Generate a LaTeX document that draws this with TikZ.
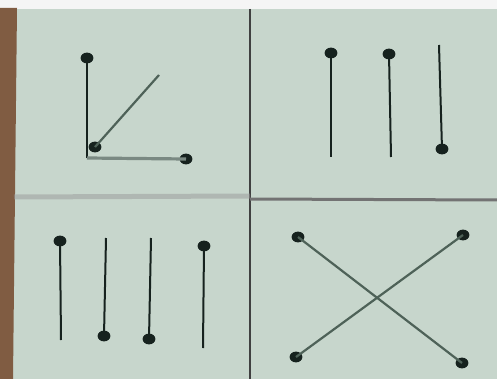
\documentclass[tikz,border=0pt]{standalone}
\definecolor{card}{RGB}{199,214,204}
\definecolor{wood}{RGB}{128,92,66}
\definecolor{ink}{RGB}{22,34,30}
\definecolor{greyink}{RGB}{78,98,88}
\tikzset{pin/.style={ellipse,fill=ink,inner sep=0pt,minimum width=6.4pt,minimum height=5.4pt},
  rod/.style={ink,line width=1pt},
  slant/.style={greyink,line width=1.1pt}}
\usetikzlibrary{shapes.geometric}
\begin{document}
\begin{tikzpicture}[x=0.5pt,y=-0.5pt]
\useasboundingbox (0,0) rectangle (497,379);
% board and cards
\fill[gray!8] (0,0) rectangle (497,379);
\fill[card] (12,9) rectangle (497,379);
\fill[wood] (0,8)--(17,8)--(13,379)--(0,379)--cycle;
\draw[black!75,line width=1pt] (250,9)--(250,379);
\draw[black!40,line width=2.5pt,opacity=.5] (14,197)--(250,196);
\draw[black!55,line width=1.5pt] (250,199)--(497,200);
% top left: angle
\node[pin] (tl1) at (87,58) {};
\coordinate (tlc) at (87,158);
\node[pin] (tl2) at (186,159) {};
\node[pin] (tl3) at (95,147) {};
\coordinate (tl4) at (159,75);
\draw[rod] (tl1.center)--(tlc);
\draw[slant,greyink!75,line width=1.6pt] (tlc)--(tl2.center);
\draw[slant] (tl3.center)--(tl4);
% top right: three rods
\node[pin] (tr1) at (331,53) {};\coordinate (tr1e) at (331,157);
\node[pin] (tr2) at (389,54) {};\coordinate (tr2e) at (391,157);
\coordinate (tr3e) at (439,45);\node[pin] (tr3) at (442,149) {};
\draw[rod] (tr1.center)--(tr1e);\draw[rod] (tr2.center)--(tr2e);\draw[rod] (tr3e)--(tr3.center);
% bottom left: four rods
\node[pin] (bl1) at (60,241) {};\coordinate (bl1e) at (61,340);
\coordinate (bl2e) at (106,238);\node[pin] (bl2) at (104,336) {};
\coordinate (bl3e) at (151,238);\node[pin] (bl3) at (149,339) {};
\node[pin] (bl4) at (204,246) {};\coordinate (bl4e) at (203,348);
\draw[rod] (bl1.center)--(bl1e);\draw[rod] (bl2e)--(bl2.center);
\draw[rod] (bl3e)--(bl3.center);\draw[rod] (bl4.center)--(bl4e);
% bottom right: crossing
\node[pin] (br1) at (298,237) {};\node[pin] (br2) at (463,235) {};
\node[pin] (br3) at (296,357) {};\node[pin] (br4) at (462,363) {};
\draw[slant] (br1.center)--(br4.center);
\draw[slant] (br2.center)--(br3.center);
\end{tikzpicture}
\end{document}
